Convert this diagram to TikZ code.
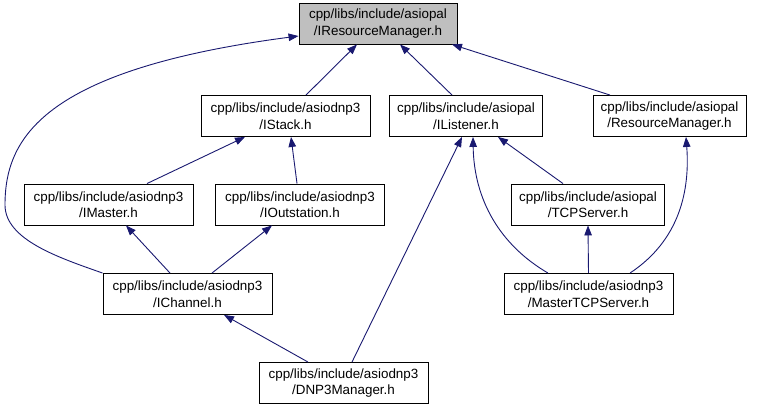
\documentclass[tikz,border=0pt]{standalone}
\usepackage{fontspec}
\setmainfont{Liberation Sans}
\usetikzlibrary{arrows.meta}
\definecolor{edgeblue}{RGB}{25,25,112}
\definecolor{focusgray}{RGB}{191,191,191}
\tikzset{
  file/.style={draw=black, line width=0.9pt, fill=white, inner sep=0pt,
    minimum height=41pt, align=center,
    font=\fontsize{13.4}{16.5}\selectfont},
  dnpfile/.style={file, minimum width=169pt},
  palfile/.style={file, minimum width=153pt},
  focus/.style={file, fill=focusgray, minimum width=158pt},
  incl/.style={draw=edgeblue, line width=0.9pt,
    -{Triangle[length=10pt,width=7.5pt]}},
}
\begin{document}
\begin{tikzpicture}[x=1pt,y=-1pt]
\useasboundingbox (0,0) rectangle (763,409);

% headers
\node[focus]   (irm)      at (378,23.5)  {cpp/libs/include/asiopal\\/IResourceManager.h};
\node[dnpfile] (istack)   at (285.5,116) {cpp/libs/include/asiodnp3\\/IStack.h};
\node[palfile] (ilisten)  at (466,116)   {cpp/libs/include/asiopal\\/IListener.h};
\node[palfile] (resmgr)   at (669.5,116) {cpp/libs/include/asiopal\\/ResourceManager.h};
\node[dnpfile] (imaster)  at (108.5,204.5) {cpp/libs/include/asiodnp3\\/IMaster.h};
\node[dnpfile] (iout)     at (300,204.5) {cpp/libs/include/asiodnp3\\/IOutstation.h};
\node[palfile] (tcpsrv)   at (588,204.5) {cpp/libs/include/asiopal\\/TCPServer.h};
\node[dnpfile] (ichannel) at (187.5,294) {cpp/libs/include/asiodnp3\\/IChannel.h};
\node[dnpfile] (mtcpsrv)  at (588.5,294) {cpp/libs/include/asiodnp3\\/MasterTCPServer.h};
\node[dnpfile] (dnp3mgr)  at (343.5,383) {cpp/libs/include/asiodnp3\\/DNP3Manager.h};

% include relations (arrow points at the included header)
\draw[incl] ([xshift=20.5pt]istack.north) -- ([xshift=-21pt]irm.south);
\draw[incl] ([xshift=-14pt]ilisten.north) -- ([xshift=22pt]irm.south);
\draw[incl] ([xshift=-59.5pt]resmgr.north) -- ([xshift=74pt]irm.south);
\draw[incl] (ichannel.north west) .. controls (60,258) and (5,240) .. (5,205)
  .. controls (5,140) and (40,70) .. ([yshift=-12.5pt]irm.west);

\draw[incl] ([xshift=38.5pt]imaster.north) -- ([xshift=-40.5pt]istack.south);
\draw[incl] ([xshift=-3pt]iout.north) -- ([xshift=5.5pt]istack.south);

\draw[incl] ([xshift=-17.5pt]ichannel.north) -- ([xshift=17.5pt]imaster.south);
\draw[incl] ([xshift=24.5pt]ichannel.north) -- ([xshift=-28pt]iout.south);

\draw[incl] ([xshift=-35.5pt]dnp3mgr.north) -- ([xshift=36.5pt]ichannel.south);
\draw[incl] ([xshift=8.5pt]dnp3mgr.north) -- ([xshift=-4pt]ilisten.south);

\draw[incl] ([xshift=-25pt]tcpsrv.north) -- ([xshift=32pt]ilisten.south);
\draw[incl] ([xshift=-40.5pt]mtcpsrv.north) .. controls (500,245) and (474,200)
  .. ([xshift=7pt]ilisten.south);
\draw[incl] (mtcpsrv.north) -- (tcpsrv.south);
\draw[incl] ([xshift=41.5pt]mtcpsrv.north) .. controls (680,240) and (690,190)
  .. ([xshift=16.5pt]resmgr.south);
\end{tikzpicture}
\end{document}
